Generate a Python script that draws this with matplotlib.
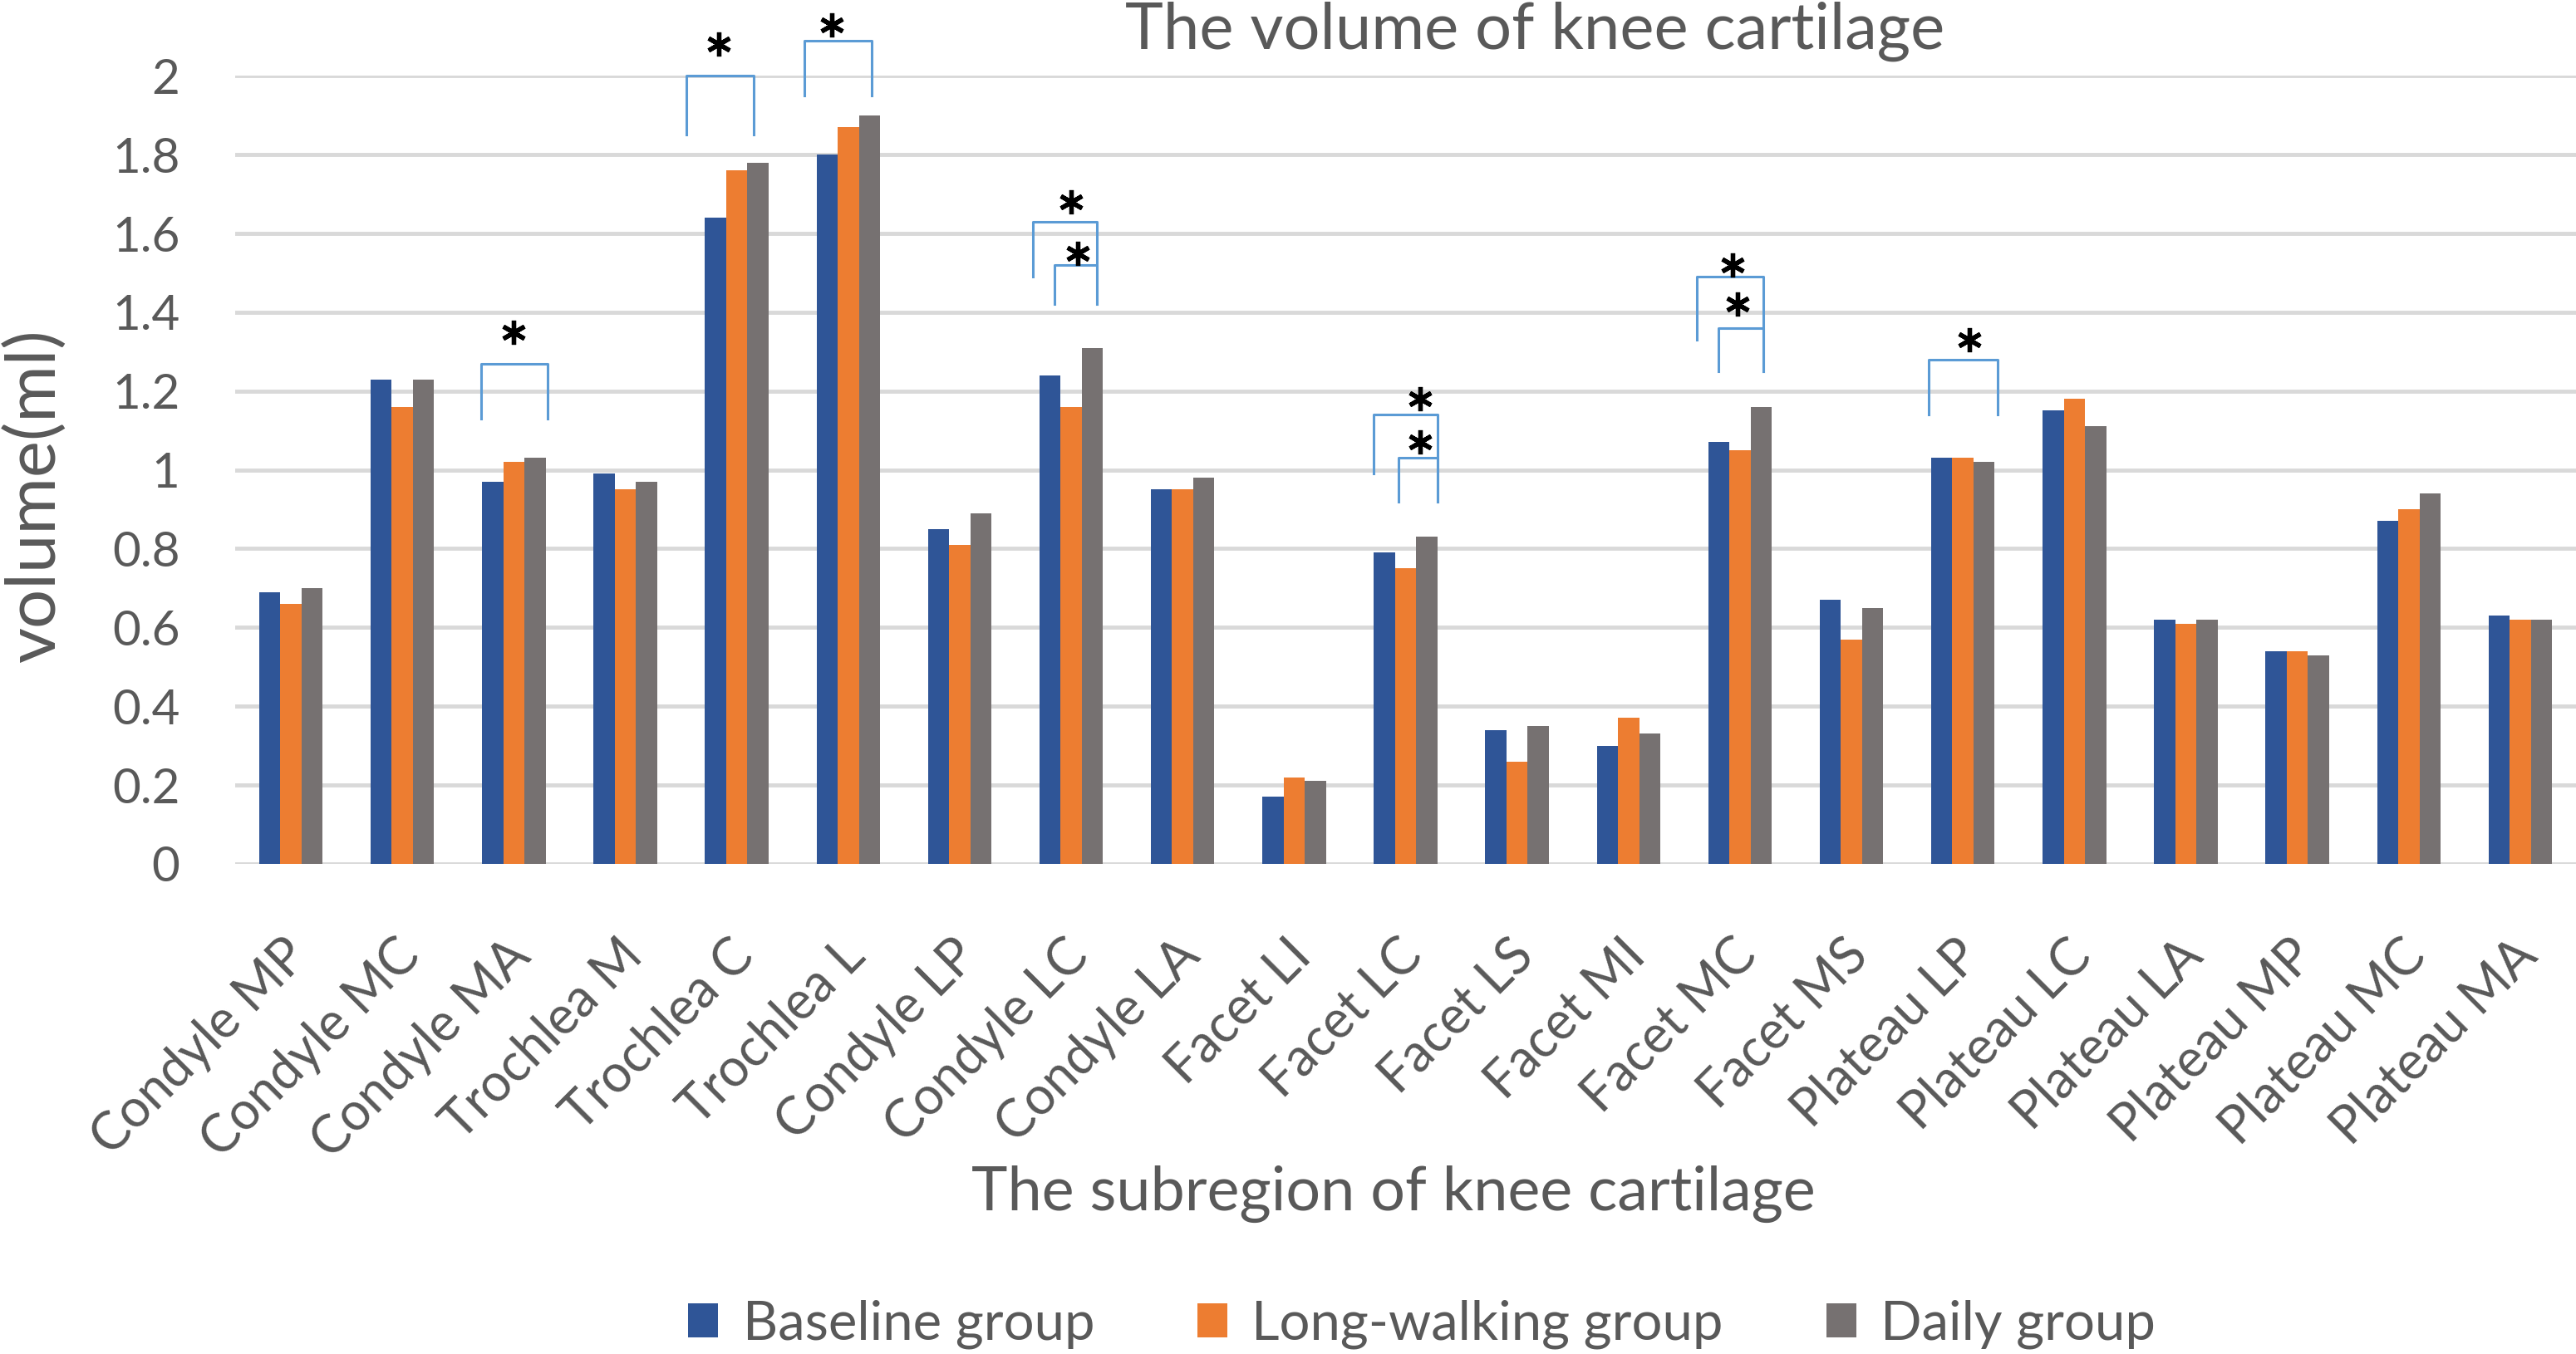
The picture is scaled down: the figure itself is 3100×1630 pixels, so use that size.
import matplotlib
matplotlib.use("Agg")
import matplotlib.pyplot as plt
import matplotlib.transforms as mtransforms
import numpy as np

plt.rcParams['font.family'] = ['Lato', 'DejaVu Sans']

# subregions and mean volumes (ml)
regions = ['Condyle MP', 'Condyle MC', 'Condyle MA', 'Trochlea M', 'Trochlea C',
           'Trochlea L', 'Condyle LP', 'Condyle LC', 'Condyle LA', 'Facet LI',
           'Facet LC', 'Facet LS', 'Facet MI', 'Facet MC', 'Facet MS',
           'Plateau LP', 'Plateau LC', 'Plateau LA', 'Plateau MP', 'Plateau MC',
           'Plateau MA']
baseline = [0.69, 1.23, 0.97, 0.99, 1.64, 1.80, 0.85, 1.24, 0.95, 0.17, 0.79,
            0.34, 0.30, 1.07, 0.67, 1.03, 1.15, 0.62, 0.54, 0.87, 0.63]
long_walking = [0.66, 1.16, 1.02, 0.95, 1.76, 1.87, 0.81, 1.16, 0.95, 0.22, 0.75,
                0.26, 0.37, 1.05, 0.57, 1.03, 1.18, 0.61, 0.54, 0.90, 0.62]
daily = [0.70, 1.23, 1.03, 0.97, 1.78, 1.90, 0.89, 1.31, 0.98, 0.21, 0.83,
         0.35, 0.33, 1.16, 0.65, 1.02, 1.11, 0.62, 0.53, 0.94, 0.62]
series_names = ['Baseline group', 'Long-walking group', 'Daily group']
colors = ['#2F5597', '#ED7D31', '#767171']

# significance brackets: (x_left, x_right, y_top, y_left_bottom, y_right_bottom)
brackets = [
    (1.71, 2.30, 1.27, 1.13, 1.13),
    (3.55, 4.15, 2.00, 1.85, 1.85),
    (4.61, 5.21, 2.09, 1.95, 1.95),
    (6.66, 7.23, 1.63, 1.49, 1.42),
    (6.85, 7.23, 1.52, 1.42, 1.42),
    (9.71, 10.29, 1.14, 0.99, 0.92),
    (9.94, 10.29, 1.03, 0.92, 0.92),
    (12.61, 13.21, 1.49, 1.33, 1.25),
    (12.81, 13.21, 1.36, 1.25, 1.25),
    (14.69, 15.31, 1.28, 1.14, 1.14),
]
stars_x = [2.00, 3.84, 4.85, 7.00, 7.06, 10.13, 10.13, 12.93, 12.98, 15.06]
stars_y = [1.35, 2.08, 2.13, 1.68, 1.55, 1.18, 1.07, 1.52, 1.42, 1.33]

fig = plt.figure(figsize=(31, 16.3), dpi=100)
ax = fig.add_axes([0.0913, 0.362, 0.9087, 0.582])

x = np.arange(len(regions))
w = 0.19
for k, vals in enumerate([baseline, long_walking, daily]):
    ax.bar(x + (k - 1) * w, vals, width=w, color=colors[k], label=series_names[k], zorder=2)

for xl, xr, yt, ybl, ybr in brackets:
    ax.plot([xl, xl, xr, xr], [ybl, yt, yt, ybr], color='#5B9BD5', lw=2.2,
            clip_on=False, zorder=3)
ax.plot(stars_x, stars_y, linestyle='none', marker=(6, 2, 0), markersize=21,
        mew=3.8, color='black', clip_on=False, zorder=4)

ax.set_xlim(-0.5, len(regions) - 0.5)
ax.set_ylim(0, 2)
ticks = np.round(np.arange(0, 2.01, 0.2), 1)
ax.set_yticks(ticks)
ax.set_yticklabels([f'{v:g}' for v in ticks])
ax.yaxis.grid(True, color='#D9D9D9', lw=3.5)
ax.set_axisbelow(True)
for s in ax.spines.values():
    s.set_visible(False)
ax.tick_params(axis='both', length=0, colors='#595959')
ax.tick_params(axis='y', pad=48, labelsize=42)
ax.set_xticks(x)
ax.set_xticklabels(regions, rotation=45, ha='right', rotation_mode='anchor')
ax.tick_params(axis='x', pad=58, labelsize=45)
shift = mtransforms.ScaledTranslation(-0.1, 0, fig.dpi_scale_trans)
for lab in ax.get_xticklabels():
    lab.set_transform(lab.get_transform() + shift)

ax.set_ylabel('volume(ml)', fontsize=60, color='#595959', va='center')
ax.yaxis.set_label_coords(-0.085, 0.467)
fig.text(0.541, 0.118, 'The subregion of knee cartilage', ha='center', va='center',
         fontsize=53, color='#595959')
fig.text(0.596, 0.977, 'The volume of knee cartilage', ha='center', va='center',
         fontsize=56, color='#595959')

fig.legend(loc='center', bbox_to_anchor=(0.552, 0.022), ncol=3, frameon=False,
           fontsize=47, handlelength=0.55, handleheight=0.6, columnspacing=1.9,
           handletextpad=0.45, labelcolor='#595959')

fig.savefig('out.png', dpi=100)
